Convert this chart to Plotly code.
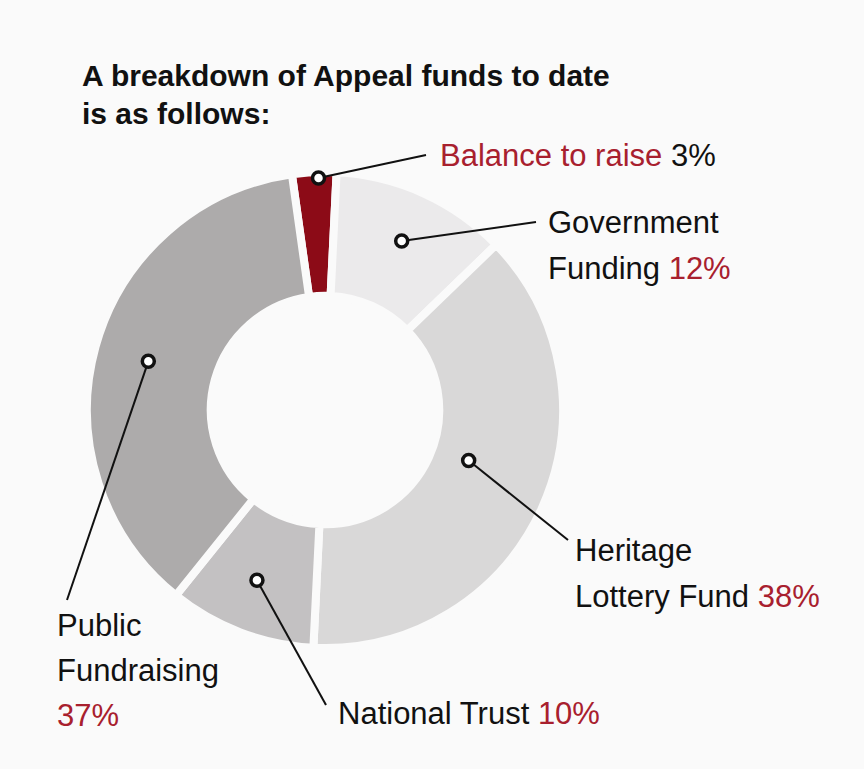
import math
import plotly.graph_objects as go

# ---- data ----
categories = ["Balance to raise", "Government Funding", "Heritage Lottery Fund",
              "National Trust", "Public Fundraising"]
values = [3, 12, 38, 10, 37]
slice_colors = ["#8c0b17", "#ebeaeb", "#d9d8d8", "#c3c1c2", "#adabab"]

# label text lines: each line is a list of (text, is_red)
label_lines = {
    "Balance to raise": [[("Balance to raise ", True), ("3%", False)]],
    "Government Funding": [[("Government", False)], [("Funding ", False), ("12%", True)]],
    "Heritage Lottery Fund": [[("Heritage", False)], [("Lottery Fund ", False), ("38%", True)]],
    "National Trust": [[("National Trust ", False), ("10%", True)]],
    "Public Fundraising": [[("Public", False)], [("Fundraising", False)], [("37%", True)]],
}

W, H = 864, 769
CX, CY, R = 325, 410, 238
ROT = -8.0
HOLE = 0.48
BG = "#fafafa"

# callout layout (pixel space)
marker_rfrac = {"Balance to raise": 0.975, "Government Funding": 0.78,
                "Heritage Lottery Fund": 0.64, "National Trust": 0.77,
                "Public Fundraising": 0.77}
angle_adj = {"Balance to raise": 1.0, "Government Funding": 0.0,
             "Heritage Lottery Fund": -5.0, "National Trust": 1.0,
             "Public Fundraising": 0.0}
line_end = {"Balance to raise": (426, 155), "Government Funding": (536, 222),
            "Heritage Lottery Fund": (568, 540), "National Trust": (326, 705),
            "Public Fundraising": (67, 600)}
text_pos = {"Balance to raise": (438, [155]), "Government Funding": (546, [222, 268]),
            "Heritage Lottery Fund": (573, [550, 596]), "National Trust": (336, [713]),
            "Public Fundraising": (55, [625, 670, 715])}

RED = "#a8202e"
BLACK = "#111111"
FONT = "Liberation Sans"
LABEL_SIZE = 31

fig = go.Figure()

fig.add_trace(go.Pie(
    labels=categories, values=values, sort=False, direction="clockwise",
    rotation=ROT, hole=HOLE,
    marker=dict(colors=slice_colors, line=dict(color=BG, width=8)),
    textinfo="none", hoverinfo="label+percent", showlegend=False,
    domain=dict(x=[(CX - R) / W, (CX + R) / W], y=[(H - CY - R) / H, (H - CY + R) / H]),
))

# invisible trace to activate the pixel-space axes
fig.add_trace(go.Scatter(x=[0, W], y=[0, H], mode="markers", marker=dict(opacity=0),
                         hoverinfo="skip", showlegend=False))

total = sum(values)
start = ROT
for cat, v in zip(categories, values):
    span = v / total * 360
    mid = start + span / 2 + angle_adj[cat]
    start += span
    rr = R * marker_rfrac[cat]
    mx = CX + rr * math.sin(math.radians(mid))
    my = CY - rr * math.cos(math.radians(mid))
    ex, ey = line_end[cat]
    fig.add_shape(type="line", x0=mx, y0=my, x1=ex, y1=ey, xref="x", yref="y",
                  line=dict(color=BLACK, width=2), layer="above")
    fig.add_shape(type="circle", x0=mx - 6, y0=my - 6, x1=mx + 6, y1=my + 6,
                  xref="x", yref="y", fillcolor="white",
                  line=dict(color=BLACK, width=3.5), layer="above")
    tx, tys = text_pos[cat]
    for line, ty in zip(label_lines[cat], tys):
        txt = "".join(
            f"<span style='color:{RED if red else BLACK}'>{t}</span>" for t, red in line)
        fig.add_annotation(x=tx, y=ty, xref="x", yref="y", text=txt, showarrow=False,
                           xanchor="left", yanchor="middle",
                           font=dict(family=FONT, size=LABEL_SIZE, color=BLACK))

fig.add_annotation(x=80, y=75, xref="x", yref="y", xanchor="left", yanchor="middle",
                   text="<b>A breakdown of Appeal funds to date</b>", showarrow=False,
                   font=dict(family=FONT, size=30, color=BLACK))
fig.add_annotation(x=80, y=113, xref="x", yref="y", xanchor="left", yanchor="middle",
                   text="<b>is as follows:</b>", showarrow=False,
                   font=dict(family=FONT, size=30, color=BLACK))

fig.update_layout(
    width=W, height=H, margin=dict(l=0, r=0, t=0, b=0),
    paper_bgcolor=BG, plot_bgcolor="rgba(0,0,0,0)",
    xaxis=dict(range=[0, W], visible=False, fixedrange=True, domain=[0, 1]),
    yaxis=dict(range=[H, 0], visible=False, fixedrange=True, domain=[0, 1]),
)

fig.write_html("out.html")
